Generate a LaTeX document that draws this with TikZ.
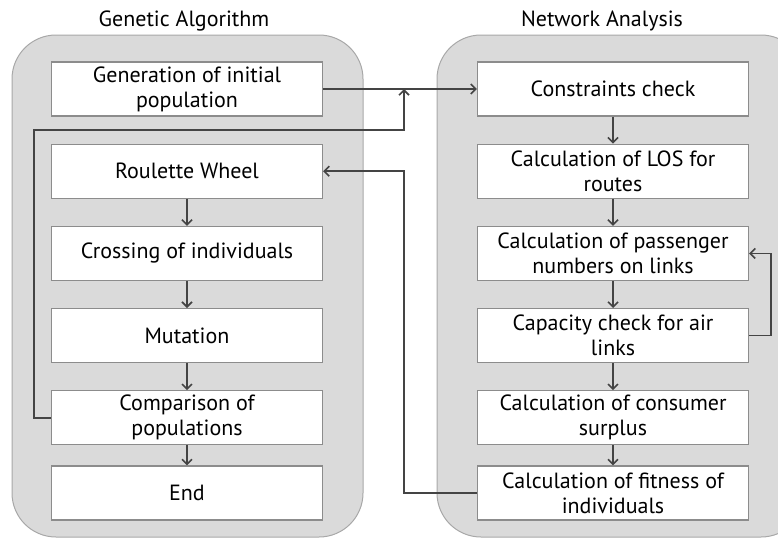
\documentclass[tikz,border=0pt]{standalone}
\usepackage{fontspec}
\setmainfont{PT Sans}
\usetikzlibrary{arrows.meta,positioning}
\definecolor{panelgray}{HTML}{DADADA}
\definecolor{panelline}{HTML}{A8A8A8}
\definecolor{boxline}{HTML}{8C8C8C}
\definecolor{flowline}{HTML}{444444}

\begin{document}
\begin{tikzpicture}[x=1pt,y=-1pt,>={Straight Barb[length=5pt,width=10pt]},node distance=27pt,
  font=\fontsize{22}{25}\selectfont]
  \tikzstyle{stage}=[draw=boxline,line width=1.2pt,fill=white,minimum width=271pt,minimum height=54pt,align=center,inner sep=1pt]
  \tikzstyle{panel}=[draw=panelline,fill=panelgray,line width=1pt,rounded corners=44pt]
  \tikzstyle{flow}=[draw=flowline,line width=1.6pt]
  \useasboundingbox (0,0) rectangle (778,538);
  % panels
  \draw[panel] (12,35) rectangle (363,537);
  \draw[panel] (437,35) rectangle (805,537);
  \node (gatitle) at (184,21) {Genetic Algorithm};
  \node (natitle) at (602,21) {Network Analysis};
  % genetic algorithm
  \node[stage] (init) at (187,89) {Generation of initial\\population};
  \node[stage,below=of init] (wheel) {Roulette Wheel};
  \node[stage,below=of wheel] (cross) {Crossing of individuals};
  \node[stage,below=of cross] (mutation) {Mutation};
  \node[stage,below=of mutation] (compare) {Comparison of\\populations};
  \node[stage,below=20pt of compare] (end) {End};
  % network analysis
  \node[stage] (constraints) at (613,89) {Constraints check};
  \node[stage,below=of constraints] (los) {Calculation of LOS for\\routes};
  \node[stage,below=of los] (passenger) {Calculation of passenger\\numbers on links};
  \node[stage,below=of passenger] (capacity) {Capacity check for air\\links};
  \node[stage,below=of capacity] (surplus) {Calculation of consumer\\surplus};
  \node[stage,below=20pt of surplus] (fitness) {Calculation of fitness of\\individuals};
  % arrows
  \foreach \a/\b in {wheel/cross,cross/mutation,mutation/compare,compare/end,
    constraints/los,los/passenger,passenger/capacity,capacity/surplus,surplus/fitness}
    \draw[flow,->] (\a) -- (\b);
  \coordinate (merge) at (404,89);
  \coordinate (loopturn) at (404,130);
  \draw[flow,->] (init) -- (constraints);
  \draw[flow,->] (compare.west) -- ++(-17,0) |- (loopturn) -- (merge);
  \draw[flow,->] (fitness.west) -| (merge |- wheel.east) -- (wheel.east);
  \draw[flow,->] (capacity.east) -- ++(22,0) |- (passenger.east);
\end{tikzpicture}
\end{document}
